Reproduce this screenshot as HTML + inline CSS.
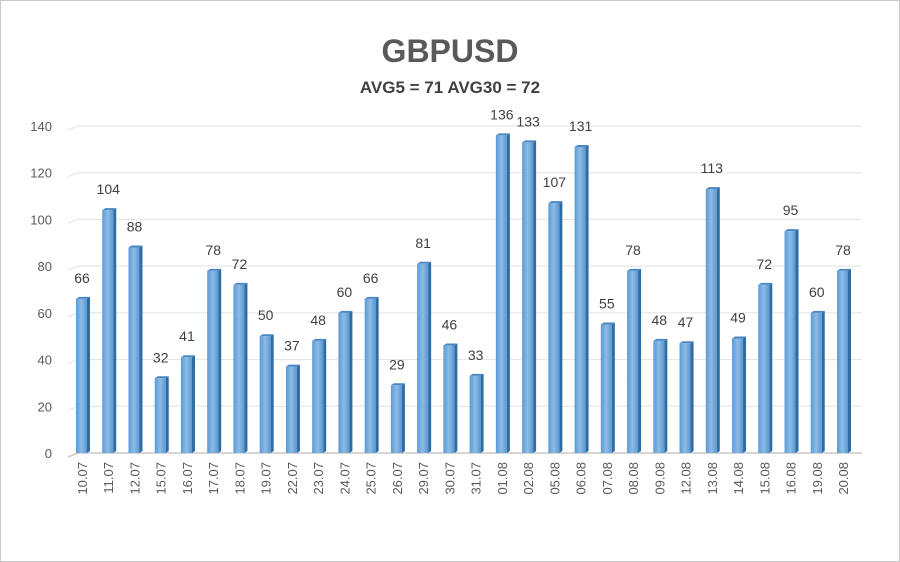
<!DOCTYPE html>
<html><head><meta charset="utf-8"><style>
html,body{margin:0;padding:0;background:#fff}
svg{display:block;font-family:"Liberation Sans",sans-serif}
</style></head><body>
<svg width="900" height="562" viewBox="0 0 900 562">
<defs>
<linearGradient id="gf" x1="0" x2="1" y1="0" y2="0"><stop offset="0" stop-color="#5b9bd5"/><stop offset="0.5" stop-color="#8dbbe6"/><stop offset="1" stop-color="#5a97d0"/></linearGradient>
</defs>
<rect x="0.5" y="0.5" width="899" height="561" fill="#fff" stroke="#c8c8c8"/>
<text x="450" y="62" text-anchor="middle" font-size="32" font-weight="bold" fill="#595959">GBPUSD</text>
<text x="450" y="93" text-anchor="middle" font-size="17" font-weight="bold" fill="#404040">AVG5 = 71 AVG30 = 72</text>
<g id="grid"></g>
<g id="bars"></g>
</svg>
<script>
const categories=["10.07","11.07","12.07","15.07","16.07","17.07","18.07","19.07","22.07","23.07","24.07","25.07","26.07","29.07","30.07","31.07","01.08","02.08","05.08","06.08","07.08","08.08","09.08","12.08","13.08","14.08","15.08","16.08","19.08","20.08"];
const values=[66,104,88,32,41,78,72,50,37,48,60,66,29,81,46,33,136,133,107,131,55,78,48,47,113,49,72,95,60,78];
const yTicks=[0,20,40,60,80,100,120,140];
const NS="http://www.w3.org/2000/svg";
const y0=453,yTop=126,yMax=140;
const y=v=>y0-v*(y0-yTop)/yMax;
const x=i=>82+i*(843-82)/(categories.length-1);
function mk(t,a,p){const e=document.createElementNS(NS,t);for(const k in a)e.setAttribute(k,a[k]);p.appendChild(e);return e;}
const g=document.getElementById('grid'),b=document.getElementById('bars');
yTicks.forEach(v=>{
 const l=mk('path',{d:`M68 ${y(v)+4} L78 ${y(v)} L862 ${y(v)}`,stroke:v===0?'#c8c8c8':'#e2e2e2',fill:'none','stroke-width':v===0?1.5:1},g);
 
 
 const t=mk('text',{x:52,y:y(v)+5,'text-anchor':'end','font-size':13,fill:'#595959'},g);
 t.textContent=v;
 
 
});
values.forEach((v,i)=>{
 const c=x(i),top=y(v);
 const s=mk('path',{d:`M${c+5} ${top} L${c+8} ${top-2} L${c+8} ${y0-2} L${c+5} ${y0} Z`,fill:'#2e6da4'},b);
 
 
 const tp=mk('path',{d:`M${c-6} ${top} L${c-3} ${top-2} L${c+8} ${top-2} L${c+5} ${top} Z`,fill:'#4a86c2'},b);
 
 
 const r=mk('rect',{x:c-6,y:top,width:11,height:y0-top,fill:'url(#gf)'},b);
 
 
 const t=mk('text',{x:c,y:top-16,'text-anchor':'middle','font-size':14,fill:'#404040'},b);
 t.textContent=v;
 
 
 const d=mk('text',{transform:`translate(${c+5},462) rotate(-90)`,'text-anchor':'end','font-size':13,fill:'#595959'},b);
 d.textContent=categories[i];
 
 
});
</script>
</body></html>
